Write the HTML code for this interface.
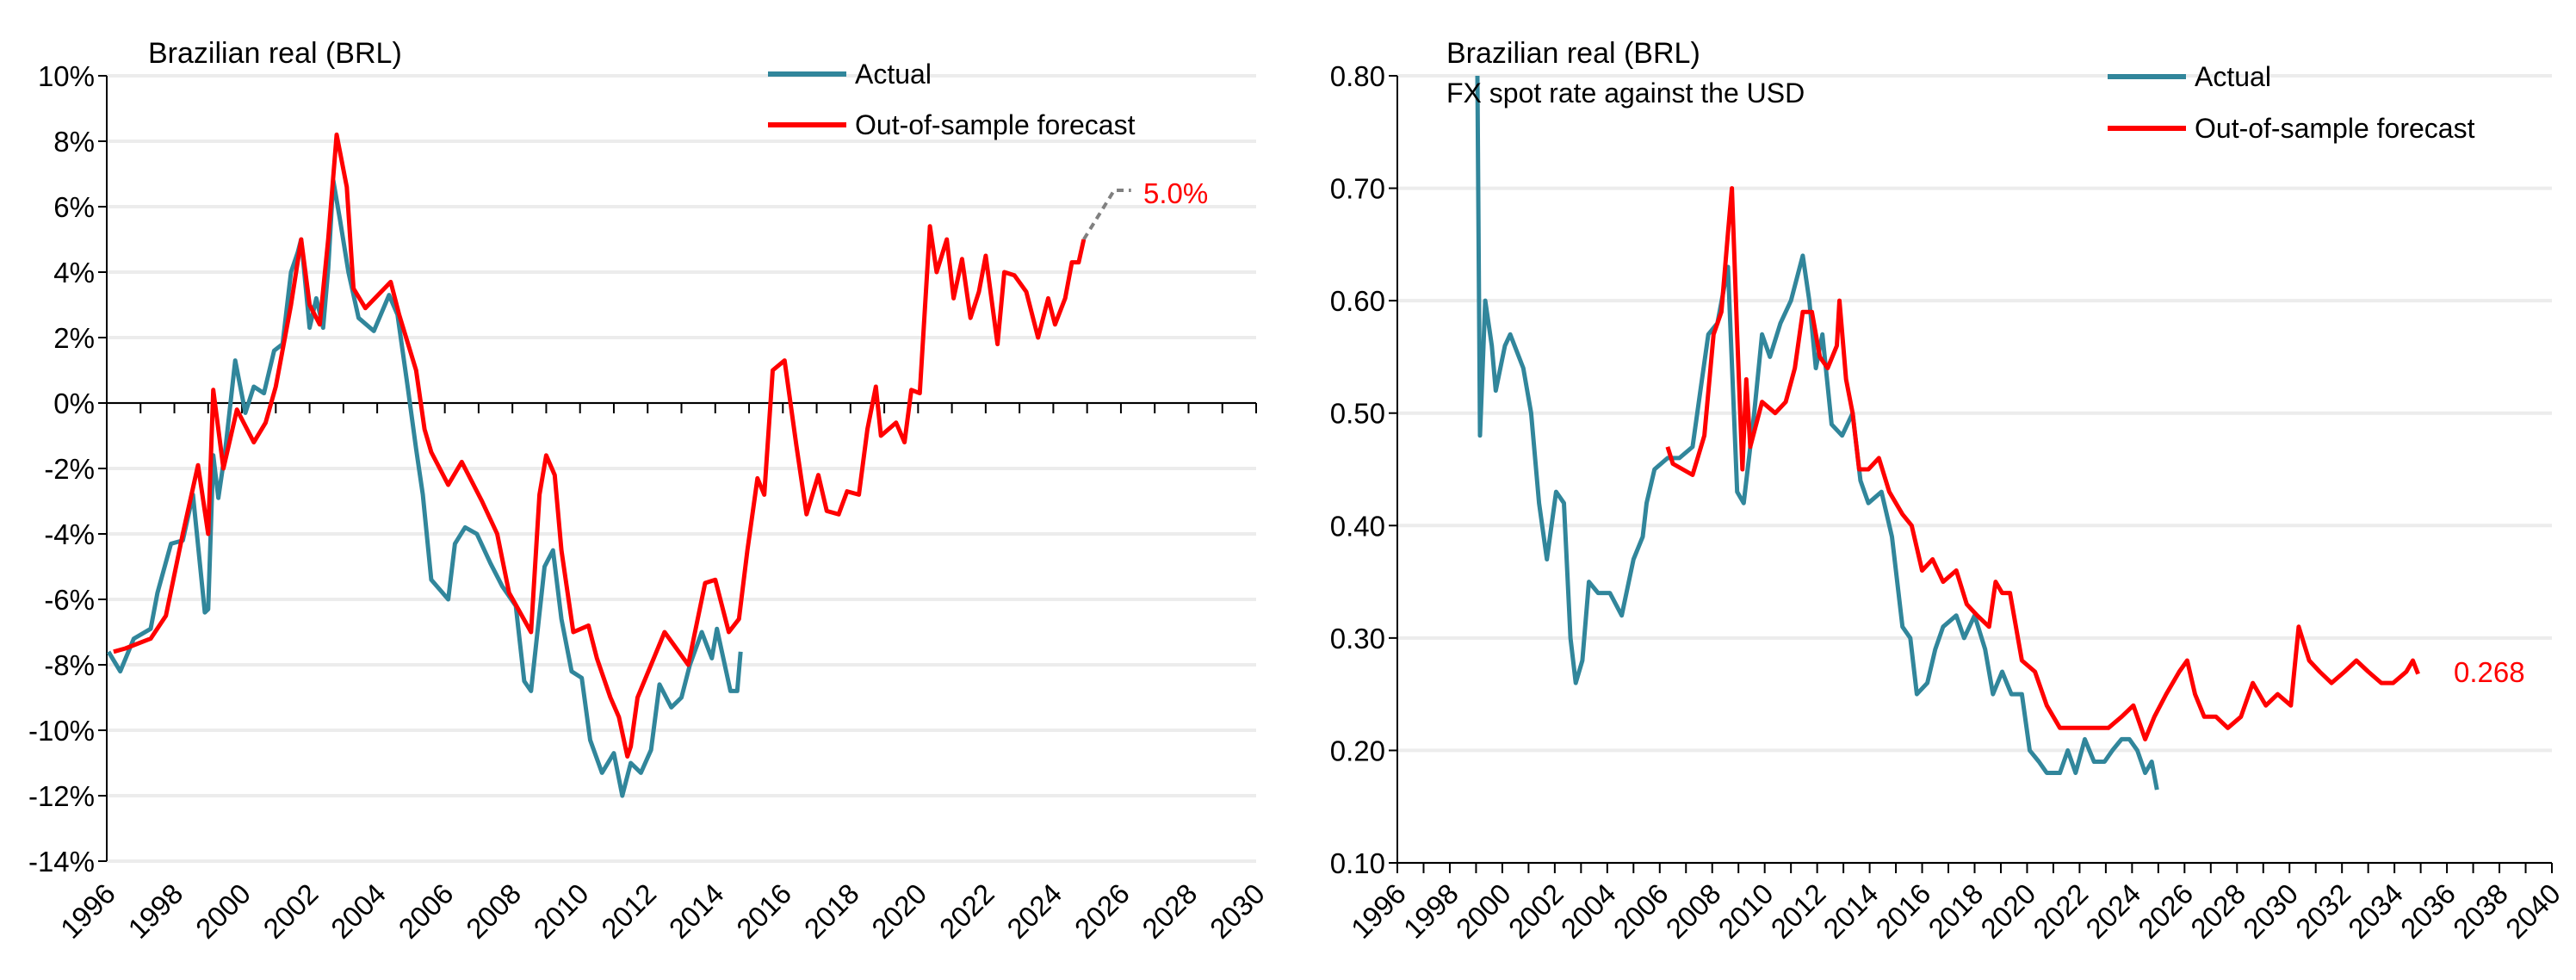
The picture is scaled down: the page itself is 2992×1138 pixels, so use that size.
<!DOCTYPE html>
<html><head><meta charset="utf-8"><style>
html,body{margin:0;padding:0;background:#fff;}
svg{display:block;font-family:"Liberation Sans Narrow","Liberation Sans",sans-serif;}
</style></head><body>
<svg id="svg" width="2992" height="1138" viewBox="0 0 2992 1138"></svg>
<script>
// ---------- Left chart data (% deviation) ----------
const leftActualYears=[1996.05,1996.4,1996.8,1997.3,1997.5,1997.9,1998.25,1998.55,1998.9,1999.0,1999.15,1999.3,1999.5,1999.8,2000.1,2000.35,2000.65,2000.95,2001.2,2001.45,2001.65,2001.75,2002.0,2002.2,2002.4,2002.55,2002.7,2002.9,2003.15,2003.45,2003.9,2004.35,2004.6,2004.9,2005.15,2005.35,2005.6,2005.85,2006.1,2006.3,2006.6,2006.95,2007.35,2007.7,2008.1,2008.35,2008.55,2008.95,2009.2,2009.45,2009.75,2010.05,2010.3,2010.65,2011.0,2011.25,2011.5,2011.8,2012.1,2012.35,2012.7,2013.0,2013.25,2013.6,2013.9,2014.05,2014.45,2014.65,2014.75];
const leftActualValues=[-7.6,-8.2,-7.2,-6.9,-5.8,-4.3,-4.2,-2.8,-6.4,-6.3,-1.6,-2.9,-1.5,1.3,-0.3,0.5,0.3,1.6,1.8,4.0,4.6,5.0,2.3,3.2,2.3,4.1,6.8,5.6,4.0,2.6,2.2,3.3,2.7,0.5,-1.4,-2.8,-5.4,-5.7,-6.0,-4.3,-3.8,-4.0,-4.9,-5.6,-6.2,-8.5,-8.8,-5.0,-4.5,-6.6,-8.2,-8.4,-10.3,-11.3,-10.7,-12.0,-11.0,-11.3,-10.6,-8.6,-9.3,-9.0,-8.0,-7.0,-7.8,-6.9,-8.8,-8.8,-7.6];
const leftForecastYears=[1996.2,1996.55,1997.3,1997.75,1998.25,1998.7,1999.0,1999.15,1999.45,1999.85,2000.35,2000.7,2001.0,2001.45,2001.75,2002.0,2002.3,2002.55,2002.8,2003.1,2003.3,2003.65,2004.4,2004.65,2005.15,2005.4,2005.6,2006.1,2006.5,2007.1,2007.55,2007.9,2008.55,2008.8,2009.0,2009.25,2009.45,2009.8,2010.25,2010.5,2010.9,2011.15,2011.4,2011.5,2011.7,2012.5,2013.2,2013.7,2014.0,2014.4,2014.7,2014.95,2015.25,2015.45,2015.7,2016.05,2016.4,2016.7,2017.05,2017.3,2017.65,2017.9,2018.25,2018.5,2018.75,2018.9,2019.35,2019.6,2019.8,2020.05,2020.35,2020.55,2020.85,2021.05,2021.3,2021.55,2021.8,2022.0,2022.35,2022.55,2022.85,2023.2,2023.55,2023.85,2024.05,2024.35,2024.55,2024.75,2024.9];
const leftForecastValues=[-7.6,-7.5,-7.2,-6.5,-4.0,-1.9,-4.0,0.4,-2.0,-0.2,-1.2,-0.6,0.5,3.0,5.0,3.0,2.4,5.0,8.2,6.6,3.5,2.9,3.7,2.7,1.0,-0.8,-1.5,-2.5,-1.8,-3.0,-4.0,-5.8,-7.0,-2.8,-1.6,-2.2,-4.5,-7.0,-6.8,-7.8,-9.0,-9.6,-10.8,-10.5,-9.0,-7.0,-8.0,-5.5,-5.4,-7.0,-6.6,-4.5,-2.3,-2.8,1.0,1.3,-1.3,-3.4,-2.2,-3.3,-3.4,-2.7,-2.8,-0.8,0.5,-1.0,-0.6,-1.2,0.4,0.3,5.4,4.0,5.0,3.2,4.4,2.6,3.4,4.5,1.8,4.0,3.9,3.4,2.0,3.2,2.4,3.2,4.3,4.3,5.0];
const leftExtYears=[2024.9,2025.8,2026.3];
const leftExtValues=[5.0,6.5,6.5];
const leftYTicks=[10,8,6,4,2,0,-2,-4,-6,-8,-10,-12,-14];
const leftXTicks=[1996,1998,2000,2002,2004,2006,2008,2010,2012,2014,2016,2018,2020,2022,2024,2026,2028,2030];

// ---------- Right chart data (USD per BRL) ----------
const rightActualYears=[1999.05,1999.15,1999.35,1999.6,1999.75,2000.1,2000.3,2000.8,2001.1,2001.4,2001.7,2002.05,2002.35,2002.6,2002.8,2003.05,2003.3,2003.65,2004.1,2004.55,2005.0,2005.35,2005.5,2005.8,2006.3,2006.75,2007.25,2007.55,2007.85,2008.2,2008.6,2008.95,2009.2,2009.6,2009.9,2010.2,2010.6,2011.0,2011.45,2011.7,2011.95,2012.2,2012.55,2012.95,2013.35,2013.65,2013.95,2014.45,2014.85,2015.25,2015.55,2015.8,2016.2,2016.5,2016.8,2017.3,2017.6,2018.0,2018.4,2018.7,2019.05,2019.4,2019.8,2020.1,2020.45,2020.75,2021.25,2021.55,2021.85,2022.2,2022.55,2022.95,2023.25,2023.6,2023.9,2024.2,2024.5,2024.75,2024.95];
const rightActualValues=[0.80,0.48,0.60,0.56,0.52,0.56,0.57,0.54,0.50,0.42,0.37,0.43,0.42,0.30,0.26,0.28,0.35,0.34,0.34,0.32,0.37,0.39,0.42,0.45,0.46,0.46,0.47,0.52,0.57,0.58,0.63,0.43,0.42,0.50,0.57,0.55,0.58,0.60,0.64,0.60,0.54,0.57,0.49,0.48,0.50,0.44,0.42,0.43,0.39,0.31,0.30,0.25,0.26,0.29,0.31,0.32,0.30,0.32,0.29,0.25,0.27,0.25,0.25,0.20,0.19,0.18,0.18,0.20,0.18,0.21,0.19,0.19,0.20,0.21,0.21,0.20,0.18,0.19,0.165];
const rightForecastYears=[2006.3,2006.5,2007.25,2007.7,2008.05,2008.35,2008.6,2008.75,2008.95,2009.15,2009.3,2009.45,2009.9,2010.4,2010.8,2011.15,2011.45,2011.8,2012.1,2012.4,2012.75,2012.85,2013.1,2013.35,2013.6,2013.95,2014.35,2014.75,2015.25,2015.6,2016.0,2016.4,2016.8,2017.3,2017.7,2018.1,2018.55,2018.8,2019.05,2019.35,2019.8,2020.3,2020.75,2021.25,2021.7,2022.2,2022.6,2023.1,2023.6,2024.05,2024.5,2024.85,2025.3,2025.8,2026.1,2026.4,2026.75,2027.2,2027.65,2028.15,2028.6,2029.1,2029.55,2030.05,2030.35,2030.75,2031.15,2031.6,2032.1,2032.55,2033.0,2033.5,2033.95,2034.45,2034.7,2034.9];
const rightForecastValues=[0.47,0.455,0.445,0.48,0.57,0.59,0.66,0.70,0.57,0.45,0.53,0.47,0.51,0.50,0.51,0.54,0.59,0.59,0.55,0.54,0.56,0.60,0.53,0.50,0.45,0.45,0.46,0.43,0.41,0.40,0.36,0.37,0.35,0.36,0.33,0.32,0.31,0.35,0.34,0.34,0.28,0.27,0.24,0.22,0.22,0.22,0.22,0.22,0.23,0.24,0.21,0.23,0.25,0.27,0.28,0.25,0.23,0.23,0.22,0.23,0.26,0.24,0.25,0.24,0.31,0.28,0.27,0.26,0.27,0.28,0.27,0.26,0.26,0.27,0.28,0.268];
const rightYTicks=[0.8,0.7,0.6,0.5,0.4,0.3,0.2,0.1];
const rightXTicks=[1996,1998,2000,2002,2004,2006,2008,2010,2012,2014,2016,2018,2020,2022,2024,2026,2028,2030,2032,2034,2036,2038,2040];

const NS='http://www.w3.org/2000/svg';
const svg=document.getElementById('svg');
function mk(tag,attrs,parent){const e=document.createElementNS(NS,tag);for(const k in attrs)e.setAttribute(k,attrs[k]);(parent||svg).appendChild(e);return e;}
function txt(s,attrs,parent){const e=mk('text',attrs,parent);e.textContent=s;return e;}

function drawChart(cfg){
  const g=mk('g',{});
  
  
  const sx=y=>cfg.x0+(y-cfg.xmin)/(cfg.xmax-cfg.xmin)*(cfg.x1-cfg.x0);
  const sy=v=>cfg.y0+(cfg.ymax-v)/(cfg.ymax-cfg.ymin)*(cfg.y1-cfg.y0);
  cfg.yTicks.forEach(v=>{
    const gl=mk('line',{x1:cfg.x0,x2:cfg.x1,y1:sy(v),y2:sy(v),stroke:'#ececec','stroke-width':4},g);
    
    
    mk('line',{x1:cfg.x0-10,x2:cfg.x0,y1:sy(v),y2:sy(v),stroke:'#000','stroke-width':2},g);
    const t=txt(cfg.fmt(v),{x:cfg.x0-14,y:sy(v)+12,'text-anchor':'end','font-size':33,fill:'#000'},g);
    
    
  });
  const ya=mk('line',{x1:cfg.x0,x2:cfg.x0,y1:cfg.y0,y2:cfg.y1,stroke:'#000','stroke-width':2},g);
  
  
  const base=sy(cfg.baseVal);
  const xa=mk('line',{x1:cfg.x0,x2:cfg.x1,y1:base,y2:base,stroke:'#000','stroke-width':2},g);
  
  
  for(let yr=cfg.xmin;yr<=cfg.xmax;yr++){
    mk('line',{x1:sx(yr),x2:sx(yr),y1:base,y2:base+12,stroke:'#000','stroke-width':2},g);
  }
  cfg.xTicks.forEach(yr=>{
    const x=sx(yr)+12,y=cfg.labelY;
    const t=txt(String(yr),{x:x,y:y,'text-anchor':'end','font-size':33,fill:'#000',transform:`rotate(-45 ${x} ${y})`},g);
    
    
  });
  function series(xs,vs,color,name,dash){
    const d=xs.map((x,i)=>(i?'L':'M')+sx(x).toFixed(1)+','+sy(vs[i]).toFixed(1)).join('');
    const p=mk('path',{d:d,fill:'none',stroke:color,'stroke-width':dash?4:5,'stroke-linejoin':'round','stroke-dasharray':dash||'none'},g);
    
    
  }
  cfg.series.forEach(s=>series(s[0],s[1],s[2],s[3],s[4]));
  return g;
}

drawChart({name:'left-chart',x0:124,x1:1459,xmin:1996,xmax:2030,y0:88,y1:1000,ymin:-14,ymax:10,
  yTicks:leftYTicks,xTicks:leftXTicks,fmt:v=>v+'%',baseVal:0,labelY:1040,
  series:[[leftExtYears,leftExtValues,'#808080','extension-dashed-line','8,6'],
          [leftActualYears,leftActualValues,'#31869b','actual-line-left'],
          [leftForecastYears,leftForecastValues,'#ff0000','forecast-line-left']]});
drawChart({name:'right-chart',x0:1623,x1:2964,xmin:1996,xmax:2040,y0:88,y1:1002,ymin:0.1,ymax:0.8,
  yTicks:rightYTicks,xTicks:rightXTicks,fmt:v=>v.toFixed(2),baseVal:0.1,labelY:1040,
  series:[[rightActualYears,rightActualValues,'#31869b','actual-line-right'],
          [rightForecastYears,rightForecastValues,'#ff0000','forecast-line-right']]});

function label(s,x,y,size,color,name){const t=txt(s,{x:x,y:y,'font-size':size,fill:color});return t;}
label('Brazilian real (BRL)',172,73,34,'#000','left-chart-title');
label('Brazilian real (BRL)',1680,73,34,'#000','right-chart-title');
label('FX spot rate against the USD',1680,119,32,'#000','right-chart-subtitle');
label('5.0%',1328,236,33,'#ff0000','left-end-value-label');
label('0.268',2850,792,33,'#ff0000','right-end-value-label');
function legend(x,y,color,s,name){
  const g=mk('g',{});
  
  
  mk('line',{x1:x,x2:x+91,y1:y,y2:y,stroke:color,'stroke-width':6},g);
  txt(s,{x:x+101,y:y+11,'font-size':32,fill:'#000'},g);
}
legend(892,86,'#31869b','Actual','legend-entry-actual-left');
legend(892,145,'#ff0000','Out-of-sample forecast','legend-entry-forecast-left');
legend(2448,89,'#31869b','Actual','legend-entry-actual-right');
legend(2448,149,'#ff0000','Out-of-sample forecast','legend-entry-forecast-right');
</script>
</body></html>
